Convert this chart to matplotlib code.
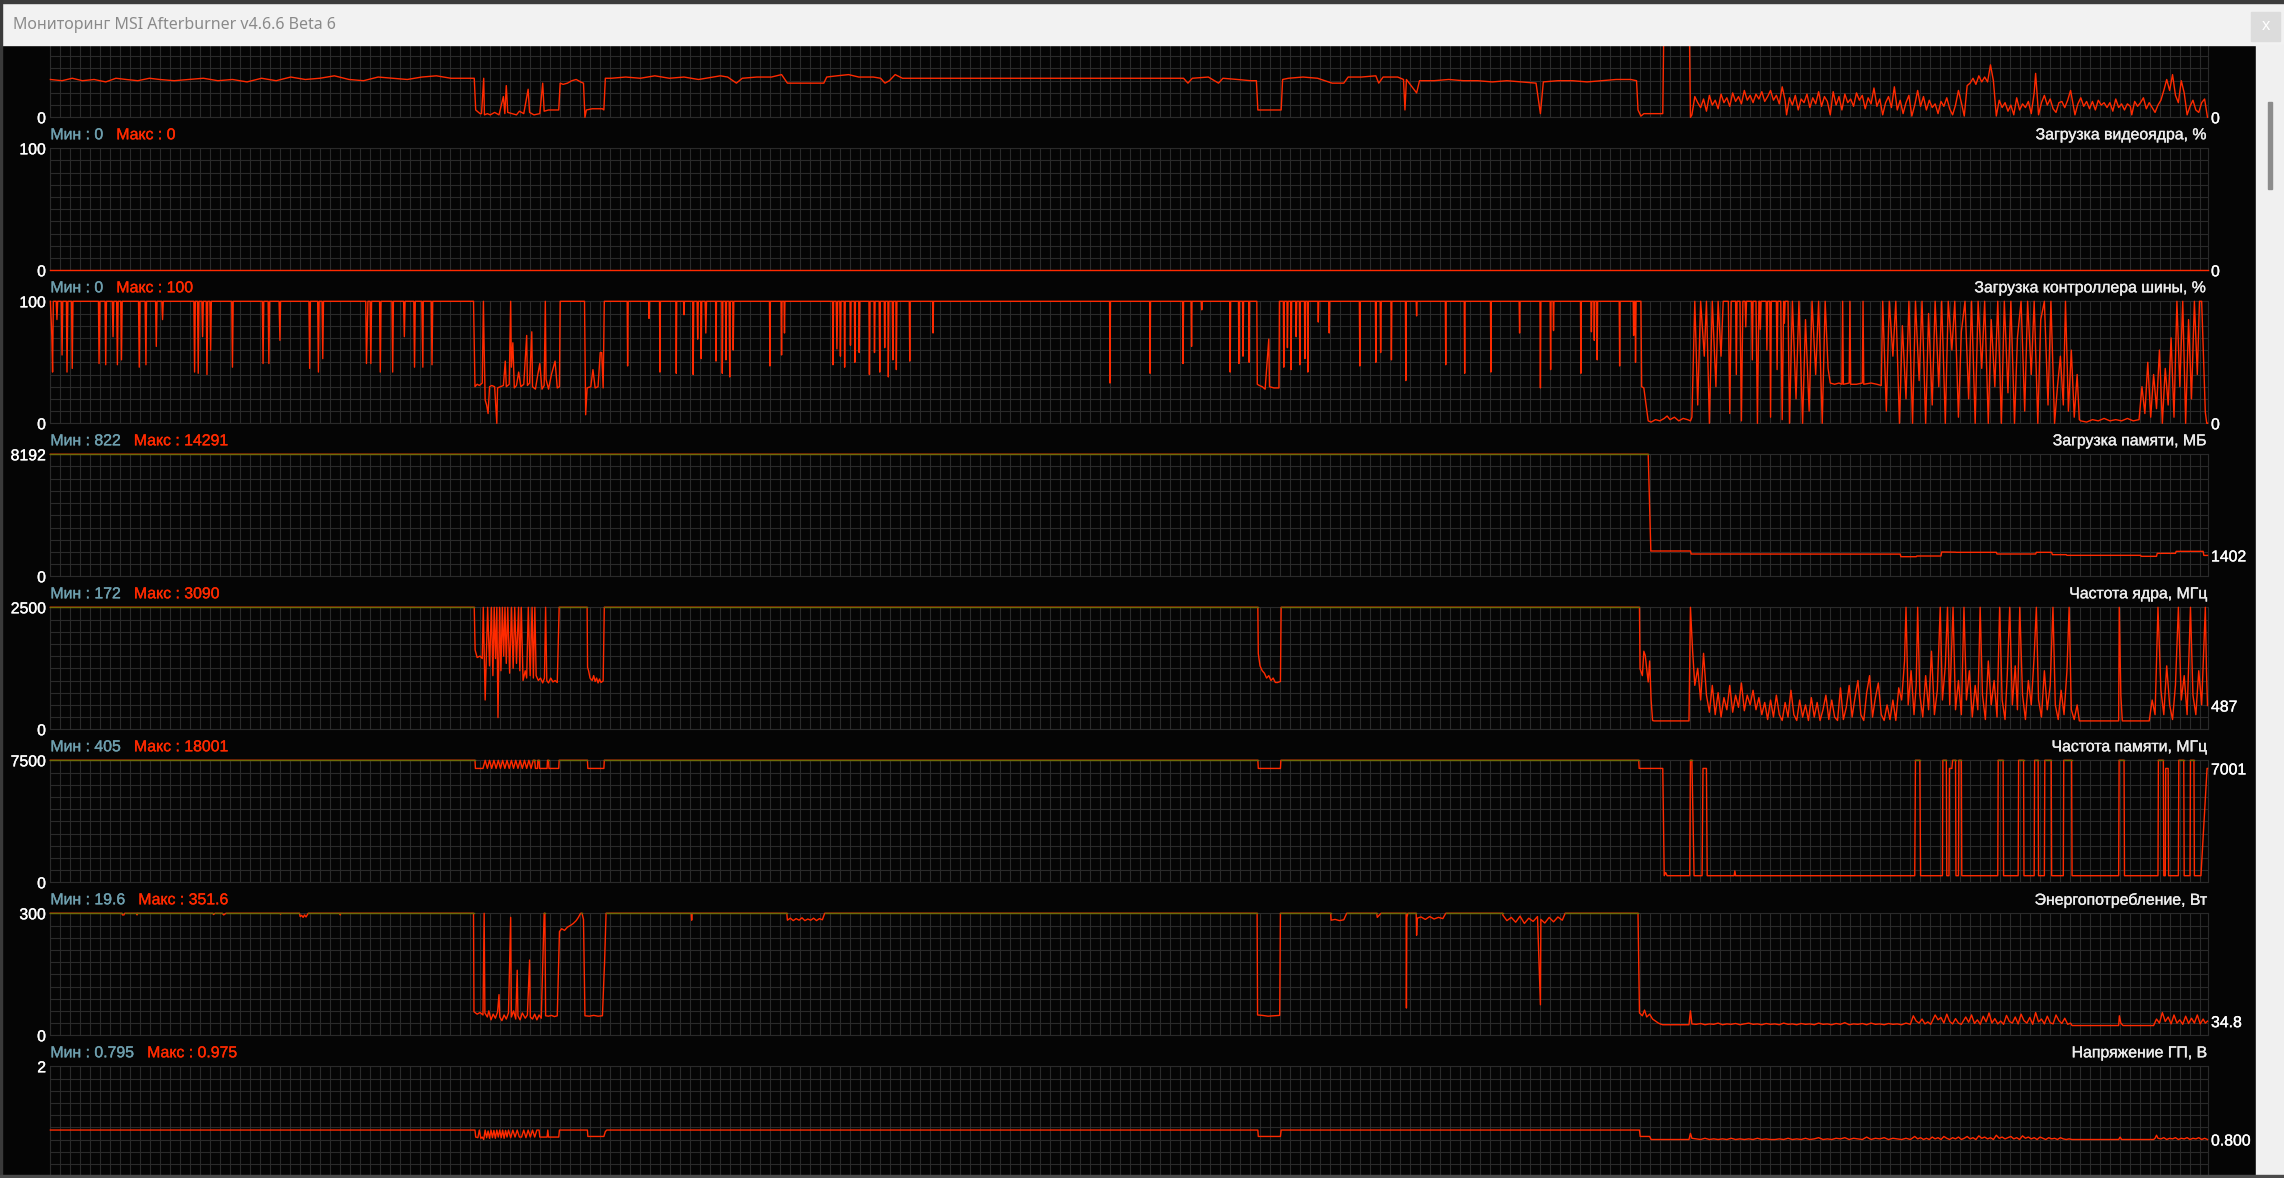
import numpy as np
import matplotlib
matplotlib.use('Agg')
import matplotlib.pyplot as plt
import matplotlib.patheffects as pe
from matplotlib.patches import Rectangle

W, H = 2284, 1178
T_END = 1481  # samples shown across the graph

# ---------------- data (time sample, value) ----------------
top_series = [
    (0, 31), (8, 30), (15, 32), (22, 30), (30, 31), (38, 29), (45, 32), (52, 31), (60, 30), (68, 32),
    (75, 31), (85, 30), (95, 31), (105, 32), (115, 30), (125, 31), (135, 29), (145, 32), (155, 30),
    (165, 33), (175, 31), (185, 32), (195, 34), (205, 31), (215, 30), (225, 33), (235, 32), (245, 31),
    (255, 33), (265, 34), (275, 32), (285, 32), (291, 32), (292, 6), (295, 3), (296, 3), (297.5, 32),
    (298, 2), (300, 3), (302, 2), (305, 4), (308, 2), (311, 17), (312, 3), (313, 26), (314, 4), (317, 3),
    (320, 2), (322, 5), (325, 3), (328, 23), (329, 4), (332, 2), (336, 3), (338, 28), (339, 5), (342, 6),
    (345, 6), (349, 6), (350, 28), (352, 27), (355, 28), (358, 30), (361, 31), (364, 29), (366, 28),
    (367, 0), (368, 6), (372, 7), (376, 7), (379, 7), (380, 6), (381, 32), (385, 32), (395, 33), (405, 32),
    (415, 34), (425, 32), (435, 33), (445, 31), (455, 33), (460, 34), (465, 33), (471, 28), (475, 32),
    (485, 33), (495, 33), (502, 35), (506, 28), (515, 28), (525, 28), (531, 28), (533, 33), (540, 34),
    (548, 35), (555, 33), (565, 33), (570, 32), (573, 28), (576, 30), (580, 35), (585, 32), (600, 32),
    (620, 32), (640, 32), (660, 32), (680, 32), (700, 32), (720, 32), (740, 32), (760, 32), (778, 32),
    (781, 28), (784, 32), (795, 33), (802, 28), (805, 32), (815, 31), (824, 30), (828, 30), (829, 6),
    (835, 6), (840, 6), (845, 6), (846, 31), (850, 32), (860, 33), (870, 32), (880, 28), (888, 28),
    (891, 33), (900, 33), (910, 34), (912, 28), (915, 33), (925, 33), (929, 31), (930, 6), (931, 31),
    (938, 20), (940, 30), (950, 30), (960, 31), (970, 30), (980, 30), (990, 29), (1000, 30), (1010, 29),
    (1020, 28), (1023, 3), (1025, 29), (1035, 30), (1045, 30), (1055, 29), (1065, 30), (1075, 31),
    (1085, 31), (1089, 30), (1090, 6), (1092, 1), (1094, 3), (1100, 3), (1107, 3), (1108, 110),
    (1124, 110), (1125, 100), (1126, 0), (1127, 2), (1129, 17), (1131, 12), (1133, 8), (1135, 15),
    (1137, 5), (1139, 18), (1141, 10), (1143, 14), (1145, 7), (1147, 19), (1149, 12), (1151, 16),
    (1153, 9), (1155, 20), (1157, 13), (1159, 17), (1161, 11), (1163, 22), (1165, 14), (1167, 18),
    (1169, 12), (1171, 19), (1173, 15), (1175, 21), (1177, 13), (1179, 17), (1181, 22), (1183, 14),
    (1185, 18), (1187, 11), (1189, 25), (1191, 14), (1192, 2), (1194, 16), (1196, 10), (1198, 18),
    (1200, 6), (1202, 15), (1204, 12), (1206, 19), (1208, 8), (1210, 16), (1212, 11), (1214, 21),
    (1216, 9), (1218, 17), (1220, 13), (1222, 2), (1224, 21), (1226, 10), (1228, 17), (1230, 6),
    (1232, 19), (1234, 12), (1236, 15), (1238, 9), (1240, 20), (1242, 14), (1244, 18), (1246, 7),
    (1248, 16), (1250, 11), (1252, 24), (1254, 9), (1256, 15), (1258, 2), (1260, 12), (1262, 17),
    (1264, 8), (1266, 25), (1268, 6), (1270, 14), (1272, 3), (1274, 12), (1276, 18), (1278, 1),
    (1280, 10), (1282, 22), (1284, 9), (1286, 17), (1288, 6), (1290, 14), (1292, 8), (1294, 11),
    (1296, 3), (1298, 13), (1300, 9), (1302, 16), (1304, 7), (1306, 2), (1308, 10), (1310, 22),
    (1312, 12), (1314, 1), (1316, 26), (1318, 28), (1320, 32), (1322, 27), (1324, 34), (1326, 29),
    (1328, 33), (1330, 29), (1332, 43), (1334, 30), (1336, 1), (1338, 14), (1340, 8), (1342, 12),
    (1344, 5), (1346, 10), (1348, 2), (1350, 16), (1352, 6), (1354, 11), (1356, 8), (1358, 13),
    (1360, 3), (1362, 20), (1363, 36), (1365, 2), (1367, 12), (1369, 18), (1371, 10), (1373, 15),
    (1375, 7), (1377, 4), (1379, 12), (1381, 13), (1383, 8), (1385, 14), (1387, 22), (1389, 9),
    (1390, 2), (1392, 11), (1394, 16), (1396, 9), (1398, 13), (1400, 7), (1402, 13), (1404, 6),
    (1406, 14), (1408, 10), (1410, 12), (1412, 8), (1414, 12), (1416, 5), (1418, 15), (1420, 8),
    (1422, 11), (1424, 6), (1426, 11), (1428, 9), (1429, 2), (1431, 13), (1433, 9), (1435, 12),
    (1437, 16), (1439, 7), (1441, 12), (1443, 8), (1445, 4), (1447, 10), (1449, 14), (1451, 22),
    (1453, 31), (1455, 22), (1457, 35), (1459, 18), (1461, 12), (1463, 30), (1465, 20), (1467, 2),
    (1469, 9), (1471, 14), (1473, 6), (1475, 4), (1477, 12), (1479, 15), (1481, 0),
]

gpu_load = [(0, 0), (1481, 0)]

bus_load = [
    (0, 100), (1, 71), (1.5, 42), (2, 100), (4, 100), (4.5, 85), (5, 100), (7.5, 100), (8, 56), (8.5, 100),
    (11, 100), (11.4, 42), (12, 100), (14.5, 100), (15, 45), (15.5, 100), (33, 100), (33.4, 49), (34, 100),
    (37.5, 100), (38, 48), (38.5, 100), (42.5, 100), (43, 71), (43.5, 100), (45.5, 100), (46, 48),
    (46.5, 100), (48.3, 100), (48.8, 52), (49.3, 100), (60.5, 100), (61, 46), (61.5, 100), (65, 100),
    (65.6, 48), (66, 100), (72.2, 100), (72.7, 63), (73.2, 100), (76.5, 100), (77, 85), (77.5, 100),
    (98.5, 100), (99, 42), (99.5, 100), (101, 100), (101.5, 41), (102, 100), (104, 100), (104.5, 71),
    (105, 100), (107, 100), (107.5, 40), (108, 100), (109.5, 100), (110, 60), (110.5, 100), (124.5, 100),
    (125, 46), (125.5, 100), (145.5, 100), (146, 49), (146.5, 100), (149.5, 100), (150, 49), (150.5, 100),
    (157, 100), (157.6, 68), (158, 100), (177.5, 100), (178, 45), (178.5, 100), (183.5, 100), (184, 42),
    (184.5, 100), (186.5, 100), (187, 53), (187.5, 100), (216.5, 100), (217, 49), (218, 100), (219.5, 100),
    (220, 49), (220.5, 100), (226, 100), (226.5, 42), (227, 100), (234.5, 100), (235, 42), (235.5, 100),
    (242.5, 100), (243, 71), (243.5, 100), (249.5, 100), (250, 46), (250.5, 100), (255, 100), (255.7, 46),
    (256, 100), (261.5, 100), (262, 48), (262.5, 100), (290.5, 100), (291.5, 30), (293, 32), (294.5, 31),
    (296.5, 33), (297.3, 100), (297.8, 62), (298.5, 19), (299.5, 15), (300.5, 8), (301.5, 30), (303, 31),
    (305, 30), (306.5, 0), (307, 29), (309, 30), (311, 31), (312.3, 51), (313, 30), (315, 32), (316, 100),
    (316.5, 46), (317.5, 66), (318.5, 29), (320, 31), (321.5, 42), (323, 30), (325, 32), (327, 72),
    (327.5, 31), (329, 33), (330.5, 75), (331, 30), (333, 28), (334.5, 39), (336, 49), (337.5, 28),
    (339, 31), (339.8, 100), (340.3, 36), (342, 28), (344, 40), (346.5, 51), (348, 29), (349.5, 30),
    (350, 100), (366.7, 100), (367.5, 7), (368.5, 29), (371, 30), (372.5, 44), (374, 29), (376, 30),
    (377.5, 58), (378.5, 58), (379.5, 29), (380.3, 100),
    (396, 100), (396.3, 47), (396.7, 100), (410.7, 100), (411, 86), (411.3, 100), (418.2, 100),
    (418.5, 42), (418.8, 100), (429.4, 100), (429.7, 41), (430, 100), (434.7, 100), (435, 89),
    (435.3, 100), (441, 100), (441.3, 40), (441.7, 100), (444, 100), (444.4, 69), (444.8, 100),
    (446.5, 100), (446.8, 53), (447.2, 100), (449.5, 100), (450, 74), (450.5, 100), (456.7, 100),
    (457, 51), (457.3, 100), (461, 100), (461.3, 41), (461.7, 100), (463.5, 100), (463.8, 52),
    (464.2, 100), (466, 100), (466.4, 38), (466.8, 100), (468.5, 100), (468.8, 60), (469.2, 100),
    (493.7, 100), (494, 47), (494.3, 100), (501.7, 100), (502, 56), (502.3, 100), (503.7, 100),
    (504, 74), (504.3, 100), (537, 100), (537.3, 48), (537.7, 100), (539.5, 100), (540, 61), (540.5, 100),
    (542, 100), (542.4, 55), (542.8, 100), (545, 100), (545.3, 46), (545.7, 100), (549, 100), (549.3, 64),
    (549.7, 100), (552, 100), (552.3, 50), (552.7, 100), (555, 100), (555.3, 58), (555.7, 100),
    (562, 100), (562.3, 40), (562.7, 100), (565.5, 100), (565.8, 58), (566.2, 100), (569, 100),
    (569.4, 42), (569.8, 100), (572.5, 100), (572.8, 62), (573.2, 100), (575, 100), (575.3, 38),
    (575.7, 100), (578, 100), (578.4, 52), (578.8, 100), (580.5, 100), (580.8, 44), (581.2, 100),
    (589.7, 100), (590, 51), (590.3, 100), (605.7, 100), (606, 74), (606.3, 100), (727.2, 100),
    (727.5, 33), (727.8, 100), (754.7, 100), (755, 41), (755.3, 100), (777.3, 100), (777.6, 49),
    (778, 100), (783.2, 100), (783.5, 63), (783.8, 100), (790.2, 100), (790.5, 93), (790.8, 100),
    (809.7, 100), (810, 42), (810.3, 100), (815.7, 100), (816, 49), (816.3, 100), (818.5, 100),
    (818.8, 55), (819.2, 100), (822.7, 100), (823, 50), (823.3, 100),
    (828.3, 100), (828.6, 32), (830, 31), (832, 30), (834, 28), (836.5, 69), (837, 30), (840, 29),
    (843.5, 29), (843.8, 100), (846.5, 100), (846.8, 46), (847.2, 100), (849, 100), (849.3, 62),
    (849.7, 100), (851.5, 100), (851.8, 44), (852.2, 100), (855, 100), (855.3, 71), (855.7, 100),
    (857.5, 100), (857.8, 48), (858.2, 100), (861, 100), (861.3, 53), (861.7, 100), (863, 100),
    (863.3, 42), (863.7, 100), (870.2, 100), (870.5, 83), (870.8, 100), (877.7, 100), (878, 74),
    (878.3, 100), (898.7, 100), (899, 47), (899.3, 100), (909.7, 100), (910, 50), (910.3, 100),
    (913, 100), (913.3, 58), (913.7, 100), (920.4, 100), (920.7, 52), (921, 100), (930.3, 100),
    (930.6, 35), (930.9, 100), (937.7, 100), (938, 88), (938.3, 100), (957.7, 100), (958, 48),
    (958.3, 100), (970.7, 100), (971, 41), (971.3, 100), (988.7, 100), (989, 42), (989.3, 100),
    (1008.4, 100), (1008.7, 74), (1009, 100), (1022.7, 100), (1023, 29), (1023.3, 100), (1029.7, 100),
    (1030, 44), (1030.3, 100), (1031.7, 100), (1032, 76), (1032.3, 100), (1050.5, 100), (1050.8, 41),
    (1051.1, 100), (1057.7, 100), (1058, 75), (1058.3, 100), (1059.7, 100), (1060, 68), (1060.3, 100),
    (1061.7, 100), (1062, 52), (1062.3, 100), (1077.1, 100), (1077.4, 47), (1077.7, 100), (1086.7, 100),
    (1087, 72), (1087.3, 100), (1088, 100), (1088.3, 50), (1088.7, 100),
    (1092, 100), (1092.5, 30), (1094, 29), (1097, 2), (1099, 1), (1102, 3), (1105, 2), (1108, 4),
    (1110, 6), (1112, 3), (1115, 5), (1118, 2), (1121, 4), (1124, 3), (1126, 2), (1127, 5),
    (1129, 100), (1131, 15), (1133, 100), (1135.5, 55), (1137, 100), (1139, 0), (1141, 100),
    (1143.5, 30), (1145, 100), (1147, 55), (1148.5, 100), (1152, 100), (1153, 8), (1154, 100),
    (1157, 100), (1157.5, 40), (1158, 100), (1160, 100), (1161, 2), (1162, 100), (1163.5, 100),
    (1164, 79), (1164.5, 100), (1168, 100), (1168.5, 52), (1169, 100), (1171, 100), (1172, 0),
    (1173, 100), (1173.5, 100), (1174, 77), (1174.5, 100), (1178, 100), (1178.5, 60), (1179, 100),
    (1180.5, 100), (1181, 5), (1181.5, 100), (1185, 100), (1185.5, 44), (1186, 100), (1188, 100),
    (1189, 3), (1190, 100), (1190.5, 82), (1191, 100), (1193, 100),
    (1194, 0), (1196, 100), (1198.5, 20), (1200.5, 100), (1203, 0), (1205, 85), (1207.5, 10),
    (1209.5, 100), (1212, 40), (1214, 100), (1216.5, 0), (1218.5, 100), (1220.5, 45), (1222, 33),
    (1225, 32), (1228, 33), (1230, 32), (1230.5, 100), (1231, 32), (1235, 33), (1235.5, 100),
    (1236, 32), (1240, 32), (1244, 33), (1244.5, 100), (1245, 32), (1250, 33), (1254, 32), (1257, 31),
    (1258, 100), (1260.5, 10), (1262.5, 100), (1265, 55), (1267, 100), (1269.5, 0), (1271.5, 80),
    (1274, 20), (1276, 100), (1278.5, 0), (1280.5, 100), (1283, 35), (1285, 100), (1287.5, 0),
    (1289.5, 90), (1292, 15), (1294, 100), (1296.5, 30), (1298.5, 100), (1301, 0), (1303, 100),
    (1305.5, 60), (1307.5, 100), (1310, 5), (1312, 75), (1314.5, 100), (1317, 20), (1319, 100),
    (1321.5, 0), (1323.5, 100), (1326, 45), (1328, 100), (1330.5, 0), (1332.5, 85), (1335, 30),
    (1337, 100), (1339.5, 0), (1341.5, 100), (1344, 25), (1346, 100), (1348.5, 0), (1350.5, 70),
    (1353, 100), (1355.5, 10), (1357.5, 100), (1360, 40), (1362, 100), (1364.5, 0), (1366.5, 85),
    (1369, 100), (1371.5, 15), (1373.5, 100), (1376, 0), (1378, 30), (1380, 55), (1382, 15),
    (1383.5, 100), (1385.5, 10), (1387.5, 60), (1389.5, 5), (1391.5, 40), (1393, 3),
    (1394, 2), (1398, 1), (1402, 3), (1406, 2), (1410, 4), (1414, 2), (1418, 3), (1422, 2), (1426, 4),
    (1430, 2), (1434, 3), (1436, 30), (1438, 8), (1440, 50), (1442, 5), (1444, 40), (1446, 12),
    (1448, 60), (1450, 0), (1452, 45), (1454, 15), (1456, 70), (1458, 5), (1460, 100), (1462, 30),
    (1464, 100), (1466, 0), (1468, 85), (1470, 20), (1472, 100), (1474, 40), (1475.5, 100),
    (1477, 100), (1478.5, 45), (1479.5, 9), (1480.5, 0), (1481, 0),
]

mem_usage = [
    (0, 14100), (1097, 14291), (1098.8, 1699), (1126, 1699), (1126.5, 1497), (1270, 1490),
    (1270.5, 1317), (1281, 1317), (1281.5, 1362), (1298, 1362), (1298.5, 1632), (1308, 1620),
    (1308.5, 1610), (1336, 1610), (1336.5, 1497), (1363, 1497), (1363.5, 1610), (1374, 1610),
    (1374.5, 1453), (1384, 1453), (1384.5, 1408), (1435, 1408), (1435.5, 1341), (1446, 1341),
    (1446.5, 1542), (1459, 1542), (1459.5, 1676), (1478, 1676), (1478.5, 1402), (1481, 1402),
]

core_clock = [
    (0, 2790), (291, 2790), (291.6, 1625), (293, 1471), (295, 1500), (296.5, 1450), (297.2, 2790),
    (298.5, 600), (300.2, 2790), (301.5, 1300), (302.8, 2790), (303.8, 1100), (304.7, 2790),
    (305.6, 1450), (306.5, 2790), (307.3, 240), (308.4, 2790), (309.3, 1200), (310.3, 2790),
    (311.2, 1500), (312.1, 2790), (313, 1350), (314, 2790), (315.3, 1150), (316.6, 2790), (317.7, 1250),
    (318.8, 2790), (320, 1350), (321.4, 2790), (322.3, 1200), (323.3, 2790), (324.5, 1000), (326, 1200),
    (327, 1050), (328.1, 2790), (329.4, 1100), (330.7, 2790), (331.6, 1050), (332.6, 2790), (333.5, 1100),
    (335, 1000), (336.5, 1050), (338, 950), (339.2, 1050), (340, 2790), (340.8, 1000), (342, 950),
    (343.5, 1050), (345, 970), (346.5, 1000), (348, 960), (349.3, 2790), (368.5, 2790), (368.8, 1270),
    (369.5, 1200), (370.5, 1050), (372, 1000), (373, 1100), (374, 980), (375, 1050), (376, 950),
    (377, 1030), (378, 960), (379.5, 990), (380.3, 2790),
    (829, 2790), (829.3, 1549), (830.5, 1300), (832, 1200), (833.5, 1150), (835, 1050), (836.5, 1100),
    (838, 1000), (839.5, 1050), (841, 960), (842.3, 958), (844.5, 980), (845, 2790),
    (1091, 2790), (1091.4, 1241), (1093, 1100), (1094, 1600), (1095, 1510), (1096, 1229), (1097, 970),
    (1098, 1400), (1099, 600), (1100, 180), (1101, 172), (1125, 172),
    (1126, 2790), (1127.5, 1600), (1129, 900), (1131, 1250), (1133, 600), (1135, 1557), (1137, 700),
    (1139, 350), (1141, 900), (1143, 300), (1145, 750), (1147, 250), (1149, 650), (1151, 400),
    (1153, 900), (1155, 350), (1157, 700), (1159, 450), (1161, 950), (1163, 380), (1165, 700),
    (1167, 500), (1169, 800), (1171, 400), (1173, 650), (1175, 300), (1177, 550), (1179, 200),
    (1181, 600), (1183, 250), (1185, 700), (1187, 300), (1189, 180), (1191, 550), (1193, 250),
    (1195, 800), (1197, 300), (1199, 180), (1201, 600), (1203, 250), (1205, 500), (1207, 180),
    (1209, 650), (1211, 250), (1213, 550), (1215, 180), (1217, 400), (1219, 700), (1221, 200),
    (1223, 600), (1225, 250), (1227, 180), (1229, 850), (1231, 200), (1233, 450), (1235, 900),
    (1237, 250), (1239, 650), (1241, 1000), (1243, 300), (1245, 180), (1247, 750), (1249, 1100),
    (1251, 250), (1253, 650), (1255, 950), (1257, 300), (1259, 180), (1261, 500), (1263, 200),
    (1265, 600), (1267, 180), (1269, 850), (1271, 600), (1273, 1400), (1274, 2790), (1275.5, 500),
    (1277.5, 1200), (1279.5, 300), (1281, 900), (1282, 2790), (1283.5, 700), (1285.5, 250),
    (1287.5, 1100), (1289.5, 400), (1291.5, 1600), (1293.5, 300), (1295.5, 800), (1297.5, 2790),
    (1299, 600), (1301, 1300), (1302.5, 2790), (1304, 500), (1306.3, 2790), (1308, 400), (1310, 1000),
    (1312, 300), (1313.8, 2790), (1315.5, 600), (1317.5, 1200), (1319.5, 250), (1321.5, 900),
    (1323.3, 400), (1324.9, 2790), (1326.5, 700), (1328.5, 200), (1330.5, 1400), (1332.5, 500),
    (1334.5, 1000), (1336.5, 250), (1338.3, 2790), (1340, 600), (1342, 200), (1343.5, 1100),
    (1345.2, 2790), (1347, 500), (1349, 1300), (1350.5, 400), (1352.1, 2790), (1354, 700), (1356, 200),
    (1358, 1000), (1360, 500), (1362, 1500), (1363.5, 2790), (1365, 600), (1367, 250), (1369, 1200),
    (1371, 400), (1373, 900), (1374.9, 2790), (1376.5, 500), (1378.5, 200), (1380.5, 800), (1382.5, 300),
    (1384.5, 1200), (1386, 2790), (1387.5, 400), (1389.5, 200), (1391.5, 500), (1393, 172), (1420, 172),
    (1420.4, 2790), (1421.5, 700), (1422.5, 172), (1441, 172), (1443, 600), (1445, 300), (1447, 2790),
    (1449, 800), (1451, 300), (1453, 1300), (1455, 500), (1457, 200), (1459, 900), (1461, 2790),
    (1463, 600), (1465, 1100), (1467, 300), (1469.3, 2790), (1471, 700), (1473, 300), (1475, 1200),
    (1477, 500), (1479.5, 2790), (1480.3, 1200), (1481, 487),
]

mem_clock = [
    (0, 18001), (291.5, 18001), (291.8, 7001), (297, 7001), (298.5, 18001), (300, 7001), (301.5, 18001),
    (303, 7001), (304.5, 18001), (306, 7001), (307.5, 18001), (309, 7001), (310.5, 18001), (312, 7001),
    (313.5, 18001), (315, 7001), (316.5, 18001), (318, 7001), (319.5, 18001), (321, 7001), (322.5, 18001),
    (324, 7001), (325.5, 18001), (327, 7001), (328.5, 18001), (330, 7001), (331.5, 18001), (332.5, 18001),
    (333, 7001), (334.4, 7001), (334.7, 18001), (335.5, 18001), (335.8, 7001), (341, 7001), (341.3, 18001),
    (342, 18001), (342.3, 7001), (349, 7001), (349.3, 18001), (368.7, 18001), (369, 7001), (380, 7001),
    (380.3, 18001), (829, 18001), (829.3, 7001), (844.5, 7001), (844.8, 18001), (1090.5, 18001),
    (1090.8, 7001), (1107, 7001), (1108, 405), (1109, 600), (1110, 405), (1125.5, 405), (1126, 18001),
    (1127, 18001), (1128.5, 405), (1134, 405), (1134.6, 7001), (1137, 7001), (1137.5, 405), (1156, 405),
    (1156.5, 700), (1157, 405), (1280, 405), (1280.5, 18001), (1283.5, 18001), (1284, 405), (1299, 405),
    (1299.3, 18001), (1301.7, 18001), (1302, 405), (1303.5, 405), (1303.8, 7001), (1305.5, 7001),
    (1306, 18001), (1308, 18001), (1308.3, 405), (1310, 405), (1310.3, 18001), (1312, 18001),
    (1312.3, 405), (1337, 405), (1337.3, 18001), (1340.7, 18001), (1341, 405), (1351, 405),
    (1351.3, 18001), (1354.7, 18001), (1355, 405), (1362, 405), (1362.3, 18001), (1364.7, 18001),
    (1365, 405), (1369, 405), (1369.3, 18001), (1373.7, 18001), (1374, 405), (1382, 405),
    (1382.3, 18001), (1387.7, 18001), (1388, 405), (1420, 405), (1420.3, 18001), (1423.7, 18001),
    (1424, 405), (1447, 405), (1447.3, 18001), (1450.7, 18001), (1451, 405), (1452, 405),
    (1452.3, 7001), (1454, 7001), (1454.3, 405), (1461, 405), (1461.3, 18001), (1464.7, 18001),
    (1465, 405), (1469, 405), (1469.3, 18001), (1471.7, 18001), (1472, 405), (1476.5, 405),
    (1480.7, 7001), (1481, 7001),
]

power = [
    (0, 320), (49, 320), (49.5, 296), (50.5, 296), (51, 320), (59.2, 320), (59.5, 296), (59.8, 320),
    (111.5, 320), (112, 297), (113, 320), (118, 320), (119, 296), (120.5, 320), (157.8, 320), (158, 298),
    (158.3, 320), (171, 320), (171.5, 292), (172.5, 295), (173.5, 290), (174.5, 296), (175.5, 291),
    (177, 320), (198.8, 320), (199, 296), (199.3, 320),
    (290.5, 320), (290.8, 58), (293, 52), (295, 56), (297, 50), (297.8, 320), (298.3, 55), (300, 45),
    (301, 60), (302.5, 38), (304, 52), (305.5, 42), (307, 57), (308, 100), (308.5, 45), (310, 36),
    (311.5, 50), (313, 40), (314.5, 55), (316, 290), (316.5, 45), (318, 60), (319.5, 40), (320.5, 160),
    (321, 48), (322.5, 38), (324, 55), (326, 42), (327.5, 50), (329, 185), (329.5, 45), (331, 40),
    (332.5, 52), (334, 38), (335.5, 50), (337, 42), (339, 320), (339.5, 320), (340, 48), (342, 47),
    (344, 49), (346, 46), (348, 48), (349.5, 255), (351, 262), (353, 258), (355, 266), (357, 270),
    (359, 275), (361, 282), (362.5, 290), (364, 320), (365, 320), (366, 285), (367, 48), (370, 47),
    (373, 49), (376, 47), (379, 48), (380.5, 182), (381.5, 320),
    (440, 320), (440.3, 283), (440.6, 320), (505.6, 320), (506, 283), (508, 288), (510, 282), (512, 287),
    (514, 283), (516, 289), (518, 282), (520, 286), (522, 283), (524, 288), (526, 282), (528, 287),
    (530, 284), (531.6, 320), (828.5, 320), (828.8, 50), (832, 49), (836, 47), (840, 48), (844, 49),
    (844.5, 320), (879, 320), (879.3, 283), (882, 285), (885, 282), (888, 284), (890, 320), (910.6, 320),
    (911, 290), (913.5, 320), (930.8, 320), (931, 67), (931.3, 290), (932, 320), (937.7, 320), (938, 246),
    (938.5, 288), (941, 291), (944, 285), (947, 292), (950, 286), (953, 290), (956, 287), (958, 320),
    (997, 320), (997.3, 295), (1000, 282), (1003, 290), (1006, 278), (1009, 293), (1012, 275),
    (1015, 288), (1018, 280), (1021, 292), (1023, 75), (1023.3, 285), (1026, 276), (1029, 290),
    (1032, 279), (1035, 291), (1038, 283), (1040, 320),
    (1090, 320), (1091, 55), (1093, 48), (1094.5, 62), (1096, 45), (1098, 52), (1100, 40), (1102, 35),
    (1104, 30), (1106, 27), (1107, 26), (1125, 26), (1126, 60), (1127, 28),
    (1130, 27), (1133, 29), (1136, 26), (1139, 28), (1142, 27), (1145, 30), (1148, 26), (1151, 28),
    (1154, 27), (1157, 29), (1160, 26), (1163, 28), (1166, 30), (1169, 27), (1172, 28), (1175, 26),
    (1178, 29), (1181, 27), (1184, 28), (1187, 26), (1190, 30), (1193, 27), (1196, 28), (1199, 26),
    (1202, 29), (1205, 27), (1208, 28), (1211, 26), (1214, 30), (1217, 27), (1220, 28), (1223, 26),
    (1226, 29), (1229, 27), (1232, 31), (1235, 26), (1238, 28), (1241, 27), (1244, 29), (1247, 26),
    (1250, 30), (1253, 27), (1256, 28), (1259, 26), (1262, 29), (1265, 27), (1268, 28), (1271, 26),
    (1274, 30), (1277, 27), (1279, 48), (1281, 35), (1283, 30), (1285, 40), (1287, 28), (1289, 33),
    (1291, 27), (1294, 50), (1296, 38), (1298, 44), (1300, 30), (1302, 52), (1304, 34), (1306, 28),
    (1308, 41), (1310, 30), (1312, 27), (1315, 45), (1317, 32), (1319, 50), (1321, 29), (1323, 38),
    (1325, 27), (1327, 47), (1329, 33), (1331, 55), (1333, 30), (1335, 41), (1337, 28), (1339, 35),
    (1341, 27), (1343, 49), (1345, 34), (1347, 30), (1349, 45), (1351, 28), (1353, 52), (1355, 36),
    (1357, 30), (1359, 44), (1361, 27), (1363, 56), (1365, 33), (1367, 40), (1369, 28), (1371, 47),
    (1373, 31), (1375, 28), (1377, 50), (1379, 36), (1381, 29), (1383, 42), (1385, 27), (1387, 30),
    (1388, 24), (1420, 24), (1420.5, 48), (1421.5, 30), (1423, 24), (1444, 24), (1446, 40), (1448, 30),
    (1450, 56), (1452, 34), (1454, 45), (1456, 28), (1458, 50), (1460, 30), (1462, 38), (1464, 27),
    (1466, 47), (1468, 29), (1470, 42), (1472, 30), (1474, 50), (1476, 28), (1478, 40), (1479.5, 30),
    (1481, 34.8),
]

voltage = [
    (0, 0.955), (291.5, 0.955), (292, 0.84), (293.5, 0.83), (294.5, 0.955), (295.5, 0.82), (296.5, 0.84),
    (297.5, 0.80), (298.5, 0.955), (299.5, 0.83), (300.5, 0.94), (301.5, 0.82), (302.5, 0.955),
    (303.5, 0.83), (304.5, 0.95), (305.5, 0.82), (306.5, 0.955), (307.5, 0.84), (308.5, 0.955),
    (309.5, 0.83), (310.5, 0.955), (311.5, 0.82), (312.5, 0.95), (313.5, 0.84), (314.5, 0.955),
    (316, 0.83), (317.5, 0.955), (319, 0.84), (320.5, 0.955), (322, 0.84), (323.5, 0.84), (325, 0.955),
    (326.5, 0.83), (328, 0.955), (329.5, 0.84), (331, 0.955), (332.5, 0.84), (334, 0.955), (335.5, 0.955),
    (336, 0.84), (341, 0.84), (341.5, 0.955), (342, 0.84), (349, 0.84), (349.5, 0.955), (368.7, 0.955),
    (369, 0.85), (380, 0.85), (381, 0.93), (382, 0.955), (829, 0.955), (829.3, 0.85), (844.5, 0.85),
    (845, 0.955), (1091, 0.955), (1091.5, 0.85), (1098, 0.85), (1099, 0.80), (1125, 0.80), (1126, 0.90),
    (1127, 0.82), (1130, 0.81), (1133, 0.80), (1136, 0.82), (1139, 0.80), (1142, 0.81), (1145, 0.80),
    (1148, 0.81), (1151, 0.80), (1154, 0.82), (1157, 0.80), (1160, 0.81), (1163, 0.80), (1166, 0.81),
    (1169, 0.80), (1172, 0.82), (1175, 0.80), (1178, 0.81), (1181, 0.80), (1184, 0.80), (1187, 0.81),
    (1190, 0.80), (1193, 0.82), (1196, 0.80), (1199, 0.81), (1202, 0.80), (1205, 0.82), (1208, 0.80),
    (1211, 0.81), (1214, 0.83), (1217, 0.80), (1220, 0.81), (1223, 0.80), (1226, 0.82), (1229, 0.81),
    (1232, 0.83), (1235, 0.80), (1238, 0.82), (1241, 0.81), (1244, 0.80), (1247, 0.84), (1250, 0.80),
    (1253, 0.82), (1256, 0.81), (1259, 0.83), (1262, 0.80), (1265, 0.82), (1268, 0.81), (1271, 0.80),
    (1274, 0.82), (1277, 0.80), (1280, 0.85), (1282, 0.81), (1284, 0.83), (1286, 0.80), (1288, 0.82),
    (1290, 0.80), (1292, 0.84), (1294, 0.81), (1296, 0.83), (1298, 0.80), (1300, 0.85), (1302, 0.82),
    (1304, 0.80), (1306, 0.83), (1308, 0.81), (1310, 0.84), (1312, 0.80), (1314, 0.82), (1316, 0.85),
    (1318, 0.81), (1320, 0.83), (1322, 0.80), (1324, 0.86), (1326, 0.82), (1328, 0.84), (1330, 0.81),
    (1332, 0.83), (1334, 0.80), (1336, 0.87), (1338, 0.82), (1340, 0.84), (1342, 0.81), (1344, 0.83),
    (1346, 0.85), (1348, 0.81), (1350, 0.83), (1352, 0.80), (1354, 0.86), (1356, 0.82), (1358, 0.84),
    (1360, 0.81), (1362, 0.83), (1364, 0.80), (1366, 0.84), (1368, 0.82), (1370, 0.80), (1372, 0.83),
    (1374, 0.81), (1376, 0.82), (1378, 0.80), (1380, 0.83), (1382, 0.81), (1384, 0.80), (1386, 0.81),
    (1388, 0.80), (1420, 0.80), (1421, 0.84), (1422, 0.80), (1444, 0.80), (1445, 0.82), (1446, 0.87),
    (1447, 0.82), (1449, 0.81), (1451, 0.83), (1453, 0.80), (1455, 0.82), (1457, 0.81), (1459, 0.83),
    (1461, 0.80), (1463, 0.82), (1465, 0.81), (1467, 0.83), (1469, 0.80), (1471, 0.82), (1473, 0.81),
    (1475, 0.83), (1477, 0.80), (1479, 0.82), (1481, 0.80),
]

# series, name, min text, max text, y max, top label, current value label
panels = [
    (top_series, None, None, None, 100, '100', '0'),
    (gpu_load, 'Загрузка видеоядра, %', 'Мин : 0', 'Макс : 0', 100, '100', '0'),
    (bus_load, 'Загрузка контроллера шины, %', 'Мин : 0', 'Макс : 100', 100, '100', '0'),
    (mem_usage, 'Загрузка памяти, МБ', 'Мин : 822', 'Макс : 14291', 8192, '8192', '1402'),
    (core_clock, 'Частота ядра, МГц', 'Мин : 172', 'Макс : 3090', 2500, '2500', '487'),
    (mem_clock, 'Частота памяти, МГц', 'Мин : 405', 'Макс : 18001', 7500, '7500', '7001'),
    (power, 'Энергопотребление, Вт', 'Мин : 19.6', 'Макс : 351.6', 300, '300', '34.8'),
    (voltage, 'Напряжение ГП, В', 'Мин : 0.795', 'Макс : 0.975', 2, '2', '0.800'),
]

# ---------------- style / layout ----------------
RED = '#ff2a00'
OLIVE = '#6e6c08'
GRID = '#2a2a2a'
MIN_COLOR = '#6e9fae'
BG = '#050505'
FS = 11.4

X0, X1 = 50.4, 2207.5        # graph left/right in pixels
PANEL_TOP0, STEP, PH = -4.7, 153, 122
WIN_TOP, WIN_BOTTOM, WIN_RIGHT = 45, 1175, 2256

plt.rcParams['font.family'] = ['Liberation Sans', 'DejaVu Sans']

fig = plt.figure(figsize=(W / 100, H / 100), dpi=100)
fig.patch.set_facecolor(BG)

grid_x = np.arange(0, T_END + 0.01, T_END * 10 / (X1 - X0))

for k, (data, name, min_txt, max_txt, ymax, top_lbl, cur_lbl) in enumerate(panels):
    top = PANEL_TOP0 + STEP * k
    ax = fig.add_axes([X0 / W, 1 - (top + PH) / H, (X1 - X0) / W, PH / H])
    ax.set_facecolor('none')
    ax.set_xlim(0, T_END)
    ax.set_ylim(0, ymax)
    ax.set_xticks(grid_x)
    ax.set_yticks(np.linspace(0, ymax, 11))
    ax.set_axisbelow(True)
    ax.grid(True, color=GRID, lw=0.8)
    ax.tick_params(length=0, labelbottom=False, labelleft=False)
    for sp in ax.spines.values():
        sp.set_color(GRID)
        sp.set_linewidth(0.8)

    t, v = np.array(data, dtype=float).T
    ax.plot(t, np.clip(v, 0, ymax), color=RED, lw=1.0, clip_on=False, zorder=3)
    # values above the scale are drawn flat along the top in olive
    over = np.where(v > ymax, ymax, np.nan)
    ax.plot(t, over, color=OLIVE, lw=1.0, clip_on=False, zorder=3.1)

# overlay in pixel coordinates for texts and window chrome
ov = fig.add_axes([0, 0, 1, 1], zorder=10)
ov.set_xlim(0, W)
ov.set_ylim(H, 0)
ov.axis('off')
ov.patch.set_alpha(0)


def label(x, y, s, color, ha='left'):
    return ov.text(x, y, s, color=color, fontsize=FS, ha=ha, va='center_baseline',
                   path_effects=[pe.withStroke(linewidth=0.25, foreground=color)])


renderer = fig.canvas.get_renderer()
for k, (data, name, min_txt, max_txt, ymax, top_lbl, cur_lbl) in enumerate(panels):
    top = PANEL_TOP0 + STEP * k
    bottom = top + PH
    last = min(max(data[-1][1], 0), ymax)
    if top > WIN_TOP:
        label(46, top, top_lbl, 'white', ha='right')
    if bottom < WIN_BOTTOM:
        label(46, bottom, '0', 'white', ha='right')
    label(2211, bottom - last / ymax * PH, cur_lbl, 'white')
    if name:
        hy = top - 15
        label(X1, hy, name, '#ececec', ha='right')
        t1 = label(X0, hy, min_txt, MIN_COLOR)
        x_end = t1.get_window_extent(renderer=renderer).x1
        label(x_end + 13, hy, max_txt, RED)

# window chrome
ov.add_patch(Rectangle((0, 0), W, WIN_TOP, color='#f2f2f2', zorder=5))
ov.add_patch(Rectangle((0, 0), W, 3, color='#3c3c3c', zorder=5))
ov.add_patch(Rectangle((0, 0), 2, H, color='#3a3a3a', zorder=5))
ov.add_patch(Rectangle((2251, 12), 29, 29, color='#dcdcdc', zorder=6))
ov.text(2265.5, 26, 'x', color='white', fontsize=12, ha='center', va='center', zorder=7)
ov.add_patch(Rectangle((WIN_RIGHT, WIN_TOP), W - WIN_RIGHT, WIN_BOTTOM - WIN_TOP, color='#f0f0f0', zorder=5))
ov.add_patch(Rectangle((2268, 102), 4, 87, color='#8c8c8c', zorder=6))
ov.add_patch(Rectangle((0, WIN_BOTTOM), W, H - WIN_BOTTOM, color='#4a4a4a', zorder=5))
ov.text(13, 23, 'Мониторинг MSI Afterburner v4.6.6 Beta 6', color='#8a8a8a', fontsize=11.5,
        family=['Noto Sans', 'DejaVu Sans'], ha='left', va='center_baseline', zorder=7)

fig.savefig('out.png', dpi=100, facecolor=fig.get_facecolor())
